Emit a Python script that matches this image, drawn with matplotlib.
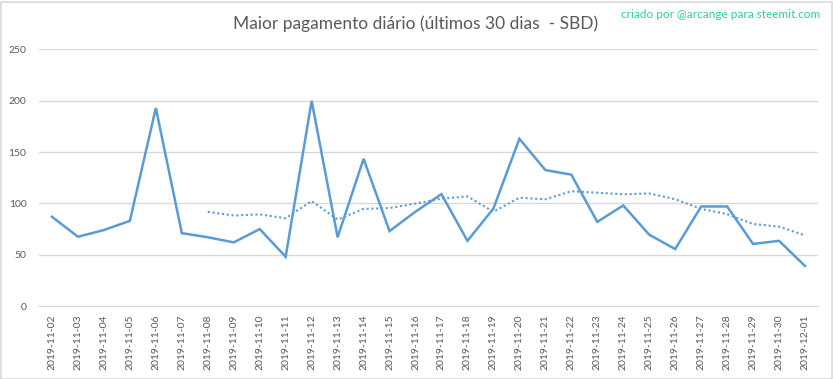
import numpy as np
import pandas as pd
import matplotlib
matplotlib.use('Agg')
import matplotlib.pyplot as plt
from matplotlib.patches import Rectangle

plt.rcParams['font.family'] = ['Lato', 'DejaVu Sans']

dias = ['2019-11-02', '2019-11-03', '2019-11-04', '2019-11-05', '2019-11-06',
        '2019-11-07', '2019-11-08', '2019-11-09', '2019-11-10', '2019-11-11',
        '2019-11-12', '2019-11-13', '2019-11-14', '2019-11-15', '2019-11-16',
        '2019-11-17', '2019-11-18', '2019-11-19', '2019-11-20', '2019-11-21',
        '2019-11-22', '2019-11-23', '2019-11-24', '2019-11-25', '2019-11-26',
        '2019-11-27', '2019-11-28', '2019-11-29', '2019-11-30', '2019-12-01']
maior_pag = [87, 67.5, 74, 83, 193, 71, 67, 62, 75, 48,
             200, 67, 143.5, 73, 92, 109, 63.5, 95, 163, 132.5,
             128, 82, 98, 69.5, 55.5, 97, 97, 60.5, 63.5, 39]

# media movel de 7 dias (linha de tendencia)
media = pd.Series(maior_pag).rolling(7).mean()

azul = '#5B9BD5'
cinza = '#595959'

fig = plt.figure(figsize=(8.33, 3.79), dpi=100)
ax = fig.add_axes([39/833, 1-306/379, (818-39)/833, (306-49.5)/379])

x = np.arange(len(dias))
ax.plot(x, maior_pag, color=azul, lw=1.8, solid_joinstyle='miter')
ax.plot(x, media, color=azul, lw=1.5, ls=(0, (1, 1.3)))

ax.set_xlim(-0.5, len(dias) - 0.5)
ax.set_ylim(0, 250)
ax.set_yticks(range(0, 251, 50))
ax.set_xticks(x)
ax.set_xticklabels(dias, rotation=90)
ax.tick_params(axis='both', length=0, labelsize=7.5, labelcolor=cinza)
ax.tick_params(axis='y', pad=9)
ax.tick_params(axis='x', pad=6)
ax.grid(axis='y', color='#D9D9D9', lw=1)
ax.set_axisbelow(True)
for s in ['top', 'right', 'left']:
    ax.spines[s].set_visible(False)
ax.spines['bottom'].set_color('#D9D9D9')

fig.text(416/833, 1-24/379, 'Maior pagamento diário (últimos 30 dias  - SBD)',
         ha='center', va='center', fontsize=12.5, color=cinza)
fig.text(820/833, 1-14/379, 'criado por @arcange para steemit.com',
         ha='right', va='center', fontsize=8.5, color='#2ECC9A')

fig.patches.append(Rectangle((0.5/833, 0.5/379), 831/833, 377/379, transform=fig.transFigure,
                             fill=False, edgecolor='#D9D9D9', lw=1.2))

fig.savefig('out.png', dpi=100)
